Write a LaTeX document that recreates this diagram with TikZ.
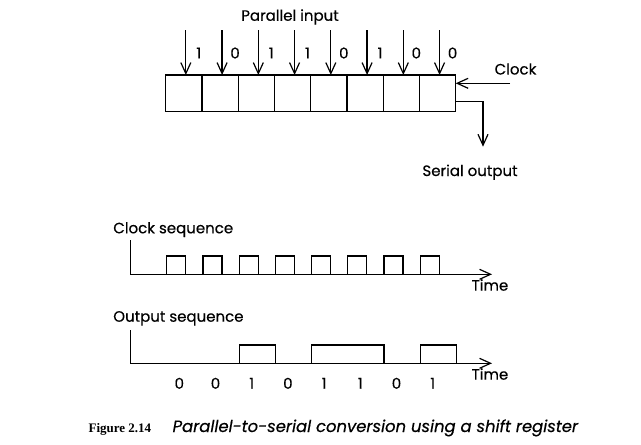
\documentclass[tikz,border=0pt]{standalone}
\usepackage{fontspec}
\newfontfamily\labelfont[FakeBold=0.4]{Poppins}
\newfontfamily\capfont{Liberation Serif Bold}
\usetikzlibrary{arrows.meta,positioning,calc}

\begin{document}
\begin{tikzpicture}[x=1pt, y=-1pt, >={Straight Barb[length=11pt,width=10pt]}, line width=1.2pt,
	cell/.style={draw, minimum width=36.25pt, minimum height=36.7pt, inner sep=0pt, outer sep=0pt},
	lbl/.style={font=\labelfont\fontsize{15}{17}\selectfont, inner sep=0pt}]
			\useasboundingbox (0,0) rectangle (641,445);

			% Draw the shift register
			\foreach \i in {1,...,8}
				\node[cell] (c\i) at ({165.7+36.25*(\i-0.5)},93.35) {};

			% Parallel input arrows with their bits
			\node[lbl] (par) at (290,17) {Parallel input};
			\foreach \b [count=\i] in {1,0,1,1,0,1,0,0} {
				\coordinate (in\i) at ($(c\i.north)+(2,-45)$);
				\draw[->] (in\i) -- (in\i |- c\i.north);
				\node[lbl] (b\i) at ($(in\i)+(13,23)$) {\b};
			}

			% Clock input
			\node[lbl] (clklbl) at (515.5,69) {Clock};
			\coordinate (clk) at (510,83.3);
			\draw[->] (clk) -- (clk -| c8.east);

			% Serial output
			\node[lbl, anchor=base] (serlbl) at (470,176) {Serial output};
			\coordinate (ser) at (483,146.7);
			\draw[->] ([yshift=-8.35pt]c8.east) -| (ser);

			% Clock sequence
			\node[lbl, anchor=base west] (clkseq) at (112.7,233.3) {Clock sequence};
			\draw[->] (130.7,240) -- (130.7,274.3) -- (492,274.3);
			\foreach \k in {0,...,7}
				\draw ({166.7+36.2*\k},274.3) -- ++(0,-18.3) -- ++(19,0) -- ++(0,18.3);
			\node[lbl] (time1) at (490,285) {Time};

			% Output sequence
			\node[lbl, anchor=base west] (outseq) at (112.7,321.7) {Output sequence};
			\draw[->] (130.7,330) -- (130.7,363.3) -- (492,363.3);
			\foreach \a/\w in {2/1,4/2,7/1}
				\draw ({166.7+36.2*\a},363.3) -- ++(0,-18.3) -- ++({36.2*\w},0) -- ++(0,18.3);
			\node[lbl] (time2) at (490,374) {Time};
			\foreach \b [count=\i from 0] in {0,0,1,0,1,1,0,1}
				\node[lbl] (o\i) at ({179.3+36.2*\i},383.3) {\b};

			% Caption
			\node[anchor=base west, inner sep=0pt, font=\capfont\fontsize{13}{16}\selectfont] (fig) at (88,432) {Figure 2.14};
			\node[anchor=base west, inner sep=0pt, font=\labelfont\itshape\fontsize{16.4}{19}\selectfont] (captxt) at (172,432) {Parallel-to-serial conversion using a shift register};
		\end{tikzpicture}
\end{document}
